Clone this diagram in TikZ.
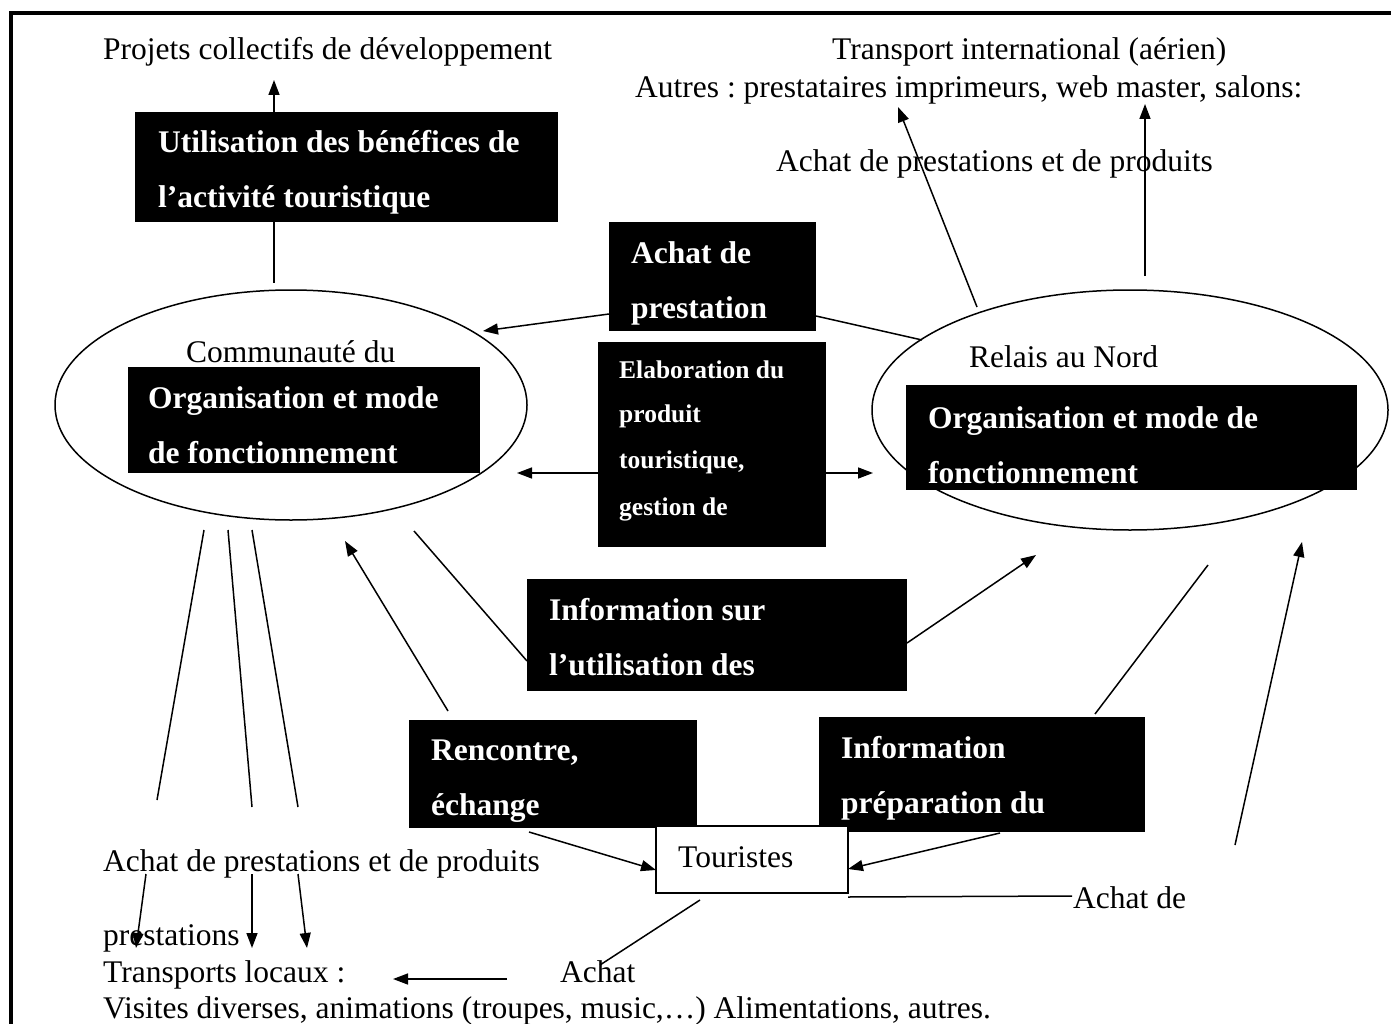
\documentclass[tikz,border=0pt]{standalone}
\usepackage{fontspec}
\setmainfont{Liberation Serif}
\usetikzlibrary{arrows.meta,shapes.geometric}
\frenchspacing
\begin{document}
\frenchspacing
\begin{tikzpicture}[x=1pt,y=-1pt,
  txt/.style={anchor=base west, inner sep=0pt, font=\fontsize{31.5}{38}\selectfont\frenchspacing},
  btxt/.style={anchor=base west, inner sep=0pt, text=white, font=\fontsize{31.5}{38}\selectfont\bfseries},
  stxt/.style={anchor=base west, inner sep=0pt, text=white, font=\fontsize{25.5}{30}\selectfont\bfseries},
  blk/.style={fill=black, draw=none, inner sep=0pt, outer sep=0pt},
  wbox/.style={fill=white, draw=black, line width=1.5pt, inner sep=0pt, outer sep=0pt},
  conn/.style={line width=1.5pt},
  arr/.style={conn, -{Triangle[length=15pt,width=11pt]}},
  oval/.style={draw, ellipse, line width=1.5pt, inner sep=0pt, outer sep=0pt}
]
\useasboundingbox (0,0) rectangle (1391,1024);
\fill[white] (0,0) rectangle (1391,1024);
% frame
\draw[line width=4pt] (10.5,1030) -- (10.5,13.5) -- (1395,13.5);

% ellipses
\node[oval, minimum width=472pt, minimum height=230pt] (L) at (291,405) {};
\node[oval, minimum width=516pt, minimum height=240pt] (R) at (1130,410) {};

% black boxes
\node[blk, minimum width=423pt, minimum height=110pt] (A) at (346.5,167) {};
\node[blk, minimum width=207pt, minimum height=109pt] (B) at (712.5,276.5) {};
\node[blk, minimum width=352pt, minimum height=106pt] (C) at (304,420) {};
\node[blk, minimum width=228pt, minimum height=205pt] (D) at (712,444.5) {};
\node[blk, minimum width=451pt, minimum height=105pt] (E) at (1131.5,437.5) {};
\node[blk, minimum width=380pt, minimum height=112pt] (F) at (717,635) {};
\node[blk, minimum width=288pt, minimum height=108pt] (G) at (553,774) {};
\node[blk, minimum width=326pt, minimum height=115pt] (H) at (982,774.5) {};
\node[wbox, minimum width=192pt, minimum height=67pt] (T) at (752,859.5) {};

% box texts
\node[btxt] (A1) at (158,153) {Utilisation des bénéfices de};
\node[btxt] (A2) at (158,208) {l’activité touristique};
\node[btxt] (B1) at (631,263) {Achat de};
\node[btxt] (B2) at (631,318) {prestation};
\node[btxt] (C1) at (148,408) {Organisation et mode};
\node[btxt] (C2) at (148,463) {de fonctionnement};
\node[stxt] (D1) at (619,378) {Elaboration du};
\node[stxt] (D2) at (619,422) {produit};
\node[stxt] (D3) at (619,468) {touristique,};
\node[stxt] (D4) at (619,515) {gestion de};
\node[btxt] (E1) at (928,428) {Organisation et mode de};
\node[btxt] (E2) at (928,483) {fonctionnement};
\node[btxt] (F1) at (549,620) {Information sur};
\node[btxt] (F2) at (549,675) {l’utilisation des};
\node[btxt] (G1) at (431,760) {Rencontre,};
\node[btxt] (G2) at (431,815) {échange};
\node[btxt] (H1) at (841,758) {Information};
\node[btxt] (H2) at (841,813) {préparation du};
\node[txt] (T1) at (678,867) {Touristes};

% plain texts
\node[txt] (t1) at (103,60) {Projets collectifs de développement};
\node[txt] (t2) at (832,60) {Transport international (aérien)};
\node[txt] (t3) at (635,98) {Autres : prestataires imprimeurs, web master, salons:};
\node[txt] (t4) at (776,172) {Achat de prestations et de produits};
\node[txt] (t5) at (186,362) {Communauté du};
\node[txt] (t6) at (969,367) {Relais au Nord};
\node[txt] (t7) at (1073,908) {Achat de};
\node[txt] (t8) at (103,871) {Achat de prestations et de produits};
\node[txt] (t9) at (103,945) {prestations};
\node[txt] (t10) at (103,982) {Transports locaux :};
\node[txt] (t11) at (560,982) {Achat};
\node[txt] (t12) at (103,1018) {Visites diverses, animations (troupes, music,…) Alimentations, autres.};

% connector end points
\coordinate (pA1) at (274,80);
\coordinate (pA2) at (274,283);
\coordinate (pB1) at (483,331);
\coordinate (pB2) at (922,340);
\coordinate (pR1s) at (977,307);
\coordinate (pR1e) at (898,107);
\coordinate (pR2s) at (1145,276);
\coordinate (pR2e) at (1145,104);
\coordinate (pD1) at (517,473);
\coordinate (pD2) at (873,473);
\coordinate (pLF) at (414,531);
\coordinate (pFR) at (1036,555);
\coordinate (pGL) at (345,541);
\coordinate (pHR) at (1208,565);
\coordinate (pXs) at (1235,845);
\coordinate (pXe) at (1302,542);
\coordinate (l1s) at (204,530); \coordinate (l1e) at (157,800);
\coordinate (l2s) at (228,530); \coordinate (l2e) at (252,807);
\coordinate (l3s) at (252,530); \coordinate (l3e) at (298,807);
\coordinate (d1s) at (146,874); \coordinate (d1e) at (136,948);
\coordinate (d2s) at (252,874); \coordinate (d2e) at (252,948);
\coordinate (d3s) at (298,874); \coordinate (d3e) at (307,948);
\coordinate (pTA) at (1072,896);
\coordinate (pTB) at (600,965);
\coordinate (pAs) at (507,979);
\coordinate (pAe) at (393,979);

% connectors
\draw[arr] (A.north -| pA1) -- (pA1);
\draw[conn] (A.south -| pA2) -- (pA2);
\draw[arr] (B.west |- 0,314) -- (pB1);
\draw[conn] (B.east |- 0,316) -- (pB2);
\draw[arr] (pR1s) -- (pR1e);
\draw[arr] (pR2s) -- (pR2e);
\draw[arr] (D.west |- 0,473) -- (pD1);
\draw[arr] (D.east |- 0,473) -- (pD2);
\draw[conn] (pLF) -- (F.west |- 0,661);
\draw[arr] (F.east |- 0,643) -- (pFR);
\draw[arr] (G.north -| 448,0) ++(0,-9) -- (pGL);
\draw[conn] (H.north -| 1095,0) ++(0,-3) -- (pHR);
\draw[arr] (pXs) -- (pXe);
\draw[conn] (l1s) -- (l1e);
\draw[conn] (l2s) -- (l2e);
\draw[conn] (l3s) -- (l3e);
\draw[arr] (d1s) -- (d1e);
\draw[arr] (d2s) -- (d2e);
\draw[arr] (d3s) -- (d3e);
\draw[arr] (G.south -| 529,0) ++(0,4) -- (T.west |- 0,870);
\draw[arr] (H.south -| 1000,0) ++(0,1) -- (T.east |- 0,869);
\draw[conn] (T.south east) ++(0,4) -- (pTA);
\draw[conn] (T.south -| 700,0) ++(0,7) -- (pTB);
\draw[arr] (pAs) -- (pAe);
\end{tikzpicture}
\end{document}
